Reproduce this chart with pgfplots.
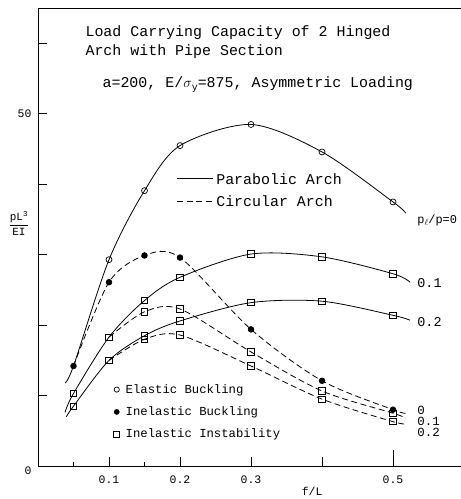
\documentclass[border=0pt]{standalone}
\usepackage{pgfplots}
\pgfplotsset{compat=1.18}
\usepackage{fontspec}
\setmainfont{Liberation Mono}
\begin{document}
\begin{tikzpicture}
\begin{axis}[
  scale only axis, width=430bp, height=457bp,
  xmin=0, xmax=0.6056, ymin=0, ymax=64.9,
  axis line style={line width=1bp},
  xtick={0.1,0.2,0.3,0.4}, xticklabels={0.1,0.2,0.3,},
  extra x ticks={0.5}, extra x tick labels={0.5},
  extra x tick style={major tick length=16bp},
  minor xtick={0.05,0.15},
  ytick={10,20,30,40,50,60}, yticklabels={,,,,50,},
  tick align=inside, xtick pos=lower, ytick pos=left,
  tick style={line width=0.9bp, black},
  major tick length=9bp, minor tick length=4bp,
  ticklabel style={font=\fontsize{11.5}{12}\selectfont},
  xticklabel style={yshift=-6bp},
  yticklabel style={xshift=-3bp},
  /pgf/number format/assume math mode=true,
  clip=false,
  legend style={at={(axis cs:0.105,11.9)}, anchor=north west, draw=none, fill=none,
     font=\fontsize{12.3}{14}\selectfont, row sep=8bp, inner sep=0pt},
  legend cell align=left,
  legend image code/.code={\path[draw=none,fill=none] (0bp,-1bp) (11bp,1bp); \draw[#1] plot coordinates {(4bp,0bp)};},
]
% legend entries (marker legend)
\addlegendimage{only marks, mark=o, mark size=2.6bp, mark options={fill=white, line width=0.7bp}}
\addlegendentry{Elastic Buckling}
\addlegendimage{only marks, mark=*, mark size=2.6bp, mark options={fill=black}}
\addlegendentry{Inelastic Buckling}
\addlegendimage{only marks, mark=square, mark size=3bp, mark options={fill=white, line width=0.7bp}}
\addlegendentry{Inelastic Instability}

% Parabolic p_l/p = 0 (elastic buckling)
\addplot[black, line width=0.8bp, smooth, mark=o, mark size=3bp,
  mark options={fill=white, solid, line width=0.7bp}, mark indices={3,4,5,6,7,8}, forget plot]
  coordinates {(0.038,11.8) (0.05,14.2) (0.1,29.3) (0.15,39.1) (0.2,45.5) (0.3,48.5) (0.4,44.6) (0.5,37.5) (0.518,35.9)};
% Parabolic 0.1
\addplot[black, line width=0.8bp, smooth, mark=square, mark size=3.2bp,
  mark options={fill=white, solid, line width=0.7bp}, mark indices={2,3,4,5,6,7,8}, forget plot]
  coordinates {(0.038,7.6) (0.05,10.3) (0.1,18.3) (0.15,23.5) (0.2,26.8) (0.3,30.1) (0.4,29.7) (0.5,27.3) (0.524,26.1)};
% Parabolic 0.2
\addplot[black, line width=0.8bp, smooth, mark=square, mark size=3.2bp,
  mark options={fill=white, solid, line width=0.7bp}, mark indices={2,3,4,5,6,7,8}, forget plot]
  coordinates {(0.040,7.0) (0.05,8.5) (0.1,15.0) (0.15,18.5) (0.2,20.6) (0.3,23.2) (0.4,23.4) (0.5,21.4) (0.524,20.7)};
% Circular 0.1
\addplot[black, line width=0.8bp, smooth, dash pattern=on 6bp off 3.5bp, mark=square, mark size=3.2bp,
  mark options={fill=white, solid, line width=0.7bp}, mark indices={1,2,3,4,5,6}, forget plot]
  coordinates {(0.1,18.3) (0.15,21.9) (0.2,22.3) (0.3,16.2) (0.4,10.65) (0.5,7.5) (0.518,6.8)};
% Circular 0.2
\addplot[black, line width=0.8bp, smooth, dash pattern=on 6bp off 3.5bp, mark=square, mark size=3.2bp,
  mark options={fill=white, solid, line width=0.7bp}, mark indices={1,2,3,4,5,6}, forget plot]
  coordinates {(0.1,15.0) (0.15,18.0) (0.2,18.6) (0.3,14.2) (0.4,9.5) (0.5,6.3) (0.518,6.0)};
% Circular 0 (inelastic buckling)
\addplot[black, line width=0.8bp, smooth, dash pattern=on 6bp off 3.5bp, mark=*, mark size=2.8bp,
  mark options={fill=black, solid}, mark indices={1,2,3,4,5,6,7}, forget plot]
  coordinates {(0.05,14.2) (0.1,26.1) (0.15,29.9) (0.2,29.6) (0.3,19.4) (0.4,12.1) (0.5,8.0) (0.518,7.5)};

% title
\node[anchor=west, font=\fontsize{15}{16}\selectfont] at (axis cs:0.062,61.6) {Load Carrying Capacity of 2 Hinged};
\node[anchor=west, font=\fontsize{15}{16}\selectfont] at (axis cs:0.062,58.8) {Arch with Pipe Section};
\node[anchor=west, font=\fontsize{15}{16}\selectfont] at (axis cs:0.086,54.2) {a=200, E/$\sigma$\raisebox{-0.35ex}{\fontsize{10}{10}\selectfont y}=875, Asymmetric Loading};

% line style legend
\draw[black, line width=0.8bp] (axis cs:0.196,40.8) -- (axis cs:0.246,40.8);
\node[anchor=west, font=\fontsize{15}{16}\selectfont, inner sep=2bp] at (axis cs:0.248,40.8) {Parabolic Arch};
\draw[black, line width=0.8bp, dash pattern=on 6bp off 3.5bp] (axis cs:0.196,37.6) -- (axis cs:0.246,37.6);
\node[anchor=west, font=\fontsize{15}{16}\selectfont, inner sep=2bp] at (axis cs:0.248,37.6) {Circular Arch};

% curve labels
\node[anchor=west, font=\fontsize{12}{13}\selectfont, inner sep=0pt] at (axis cs:0.534,34.9) {p\raisebox{-0.4ex}{\fontsize{9}{9}\selectfont$\ell$}/p=0};
\node[anchor=west, font=\fontsize{13.5}{14}\selectfont, inner sep=0pt] at (axis cs:0.534,26.0) {0.1};
\node[anchor=west, font=\fontsize{13.5}{14}\selectfont, inner sep=0pt] at (axis cs:0.534,20.45) {0.2};
\node[anchor=west, align=left, font=\fontsize{12.5}{11}\selectfont, inner sep=0pt] at (axis cs:0.534,6.3) {0\\0.1\\0.2};

% axis labels
\node[font=\fontsize{11.5}{12}\selectfont] at (axis cs:0.386,-3.6) {f/L};
\node[font=\fontsize{11.5}{12}\selectfont] at (axis cs:-0.014,-0.6) {0};
\node[font=\fontsize{11}{12}\selectfont] at (axis cs:-0.0268,34.5) {$\displaystyle\frac{\mbox{pL}^{\mbox{\fontsize{7.5}{7.5}\selectfont 3}}}{\mbox{EI}}$};
\end{axis}
\pgfresetboundingbox
\path[use as bounding box] (-38bp,-33bp) rectangle (423bp,466bp);
\end{tikzpicture}
\end{document}
